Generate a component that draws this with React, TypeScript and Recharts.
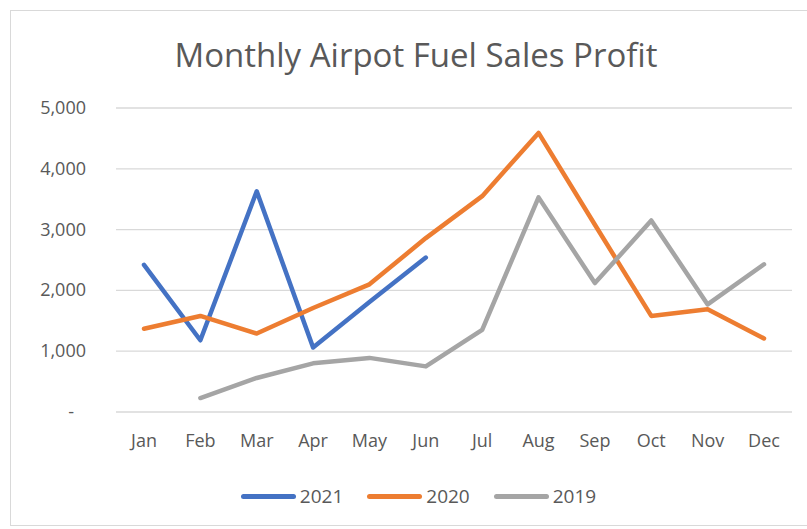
import React from 'react'
import { LineChart, Line, XAxis, YAxis, CartesianGrid } from 'recharts'

const months = ['Jan', 'Feb', 'Mar', 'Apr', 'May', 'Jun', 'Jul', 'Aug', 'Sep', 'Oct', 'Nov', 'Dec']
const sales2021 = [2420, 1180, 3630, 1060, 1810, 2540, null, null, null, null, null, null]
const sales2020 = [1370, 1580, 1290, 1710, 2100, 2860, 3550, 4590, 3080, 1580, 1690, 1210]
const sales2019 = [null, 230, 560, 800, 890, 750, 1350, 3530, 2120, 3150, 1770, 2430]
const yTicks = [0, 1000, 2000, 3000, 4000, 5000]

const series = [
  { key: 's2021', name: '2021', color: '#4472C4' },
  { key: 's2020', name: '2020', color: '#ED7D31' },
  { key: 's2019', name: '2019', color: '#A5A5A5' },
]

const data = months.map((m, i) => ({ month: m, s2021: sales2021[i], s2020: sales2020[i], s2019: sales2019[i] }))

const FONT = '"Open Sans", sans-serif'
const TEXT = '#595959'

function YTick(props: any) {
  const { x, y, payload } = props
  const v = payload.value as number
  const label = v === 0 ? '-' : v.toLocaleString('en-US')
  return (
    <text x={v === 0 ? x - 12 : x} y={y} dy={6} textAnchor="end" fill={TEXT} fontSize={18} fontFamily={FONT}>
      {label}
    </text>
  )
}

export default function App() {
  return (
    <div style={{ position: 'fixed', left: 0, top: 0, width: 807, height: 529, overflow: 'hidden', background: '#fff' }}>
      <div style={{ position: 'absolute', left: 10, top: 10, width: 812, height: 514, border: '1px solid #d9d9d9' }} />
      <div style={{ position: 'absolute', left: 10, width: 812, top: 34, textAlign: 'center', fontFamily: FONT, fontSize: 33, color: TEXT, lineHeight: '42px' }}>
        Monthly Airpot Fuel Sales Profit
      </div>
      <div style={{ position: 'absolute', left: 0, top: 0 }}>
        <LineChart width={807} height={529} data={data} margin={{ top: 108, right: 15, left: 0, bottom: 77 }}>
          <CartesianGrid vertical={false} stroke="#d9d9d9" strokeWidth={1.3} />
          <XAxis dataKey="month" axisLine={false} tickLine={false} tickSize={0} tickMargin={22} height={40}
            padding={{ left: 28, right: 28 }} tick={{ fill: TEXT, fontSize: 18, fontFamily: FONT }} interval={0} />
          <YAxis domain={[0, 5000]} ticks={yTicks} width={116} axisLine={false} tickLine={false} tickSize={0} tickMargin={30}
            tick={<YTick />} interval={0} />
          {series.map((s) => (
            <Line key={s.key} dataKey={s.key} name={s.name} stroke={s.color} strokeWidth={4.5} strokeLinecap="round"
              strokeLinejoin="round" dot={false} activeDot={false} isAnimationActive={false} type="linear" />
          ))}
        </LineChart>
      </div>
      <div style={{ position: 'absolute', top: 482, left: 0, width: 807, display: 'flex', justifyContent: 'center', paddingLeft: 30, boxSizing: 'border-box', fontFamily: FONT, fontSize: 19, color: TEXT, lineHeight: '28px' }}>
        {series.map((s) => (
          <div key={s.key} style={{ display: 'flex', alignItems: 'center', margin: '0 12px' }}>
            <div style={{ width: 55, height: 5, borderRadius: 3, background: s.color, marginRight: 4 }} />
            <span>{s.name}</span>
          </div>
        ))}
      </div>
    </div>
  )
}
